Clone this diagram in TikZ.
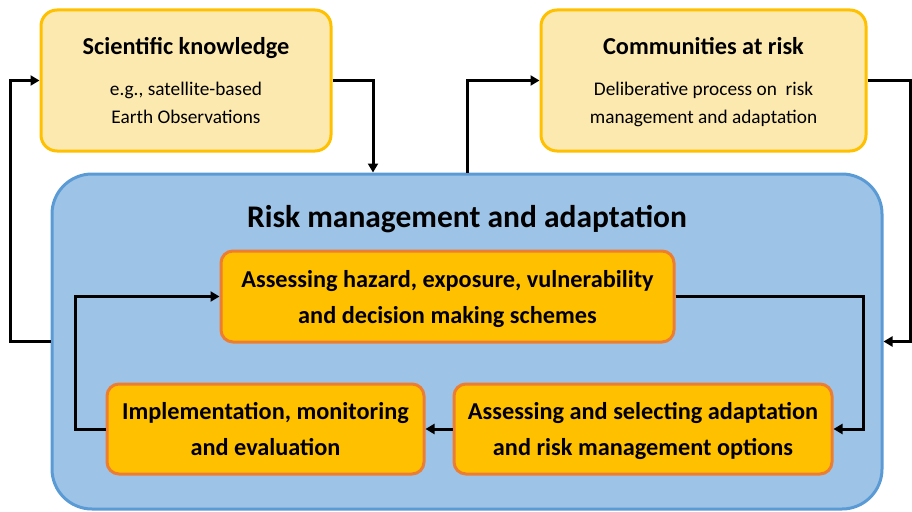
\documentclass[tikz,border=0pt]{standalone}
\usepackage{fontspec}
\setmainfont{Carlito}
\usetikzlibrary{arrows.meta}
\definecolor{yfill}{HTML}{FCE9AF}
\definecolor{ydraw}{HTML}{FFC000}
\definecolor{bfill}{HTML}{9DC3E6}
\definecolor{bdraw}{HTML}{5B9BD5}
\definecolor{ofill}{HTML}{FFC000}
\definecolor{odraw}{HTML}{ED7D31}
\begin{document}
\begin{tikzpicture}[x=1pt,y=-1pt,
  topbox/.style={draw=ydraw, fill=yfill, line width=3pt, rounded corners=16pt,
    align=center, inner sep=0pt, text depth=0pt, font=\fontsize{19.3}{28}\selectfont},
  mainbox/.style={draw=bdraw, fill=bfill, line width=3pt, rounded corners=40pt, inner sep=0pt},
  stepbox/.style={draw=odraw, fill=ofill, line width=3pt, rounded corners=12pt,
    align=center, inner sep=0pt, text depth=0pt, font=\bfseries\fontsize{24.3}{36}\selectfont},
  conn/.style={line width=3pt, -{Triangle[length=9pt,width=10pt]}}
]
\useasboundingbox (0,0) rectangle (912,511);

\node[topbox, minimum width=290pt, minimum height=141pt] (sci) at (186,80.5)
  {{\bfseries\fontsize{24.3}{28}\selectfont Scientific knowledge}\\[13pt]
   e.g., satellite-based\\ Earth Observations};
\node[topbox, minimum width=325pt, minimum height=141pt] (com) at (703.5,80.5)
  {{\bfseries\fontsize{24.3}{28}\selectfont Communities at risk}\\[13pt]
   Deliberative process on\ \ risk\\ management and adaptation};

\node[mainbox, minimum width=830pt, minimum height=335pt] (main) at (467,341.5) {};
\node[anchor=base, inner sep=0pt, font=\bfseries\fontsize{31.5}{36}\selectfont] (rmtitle) at (467,227)
  {Risk management and adaptation};

\node[stepbox, minimum width=453pt, minimum height=91pt] (s1) at (447.5,296.5)
  {Assessing hazard, exposure, vulnerability\\ and decision making schemes};
\node[stepbox, minimum width=317pt, minimum height=90pt] (s2) at (265.5,429)
  {Implementation, monitoring\\ and evaluation};
\node[stepbox, minimum width=378pt, minimum height=90pt] (s3) at (643,429)
  {Assessing and selecting adaptation\\ and risk management options};

\coordinate (cdown) at (373,0);
\coordinate (cleft) at (10,0);
\coordinate (cright) at (910,0);
\coordinate (ileft) at (75,0);
\coordinate (iright) at (863,0);

\draw[conn] (sci.east) -| (cdown |- main.north);
\draw[conn] (main.west) -- (cleft |- main.west) |- (sci.west);
\draw[conn] (main.north) |- (com.west);
\draw[conn] (com.east) -| (cright |- main.east) -- (main.east);

\draw[conn] (s1.east) -| (iright |- s3.east) -- (s3.east);
\draw[conn] (s3.west) -- (s2.east);
\draw[conn] (s2.west) -- (ileft |- s2.west) |- (s1.west);
\end{tikzpicture}
\end{document}
